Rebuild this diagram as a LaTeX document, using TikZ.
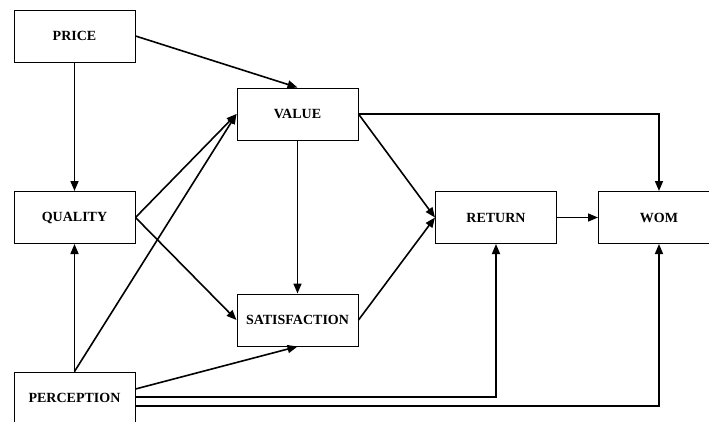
\documentclass[tikz,border=0pt]{standalone}
\usepackage{fontspec}
\setmainfont{Liberation Serif}
\usetikzlibrary{arrows.meta,calc}
\begin{document}
\begin{tikzpicture}[x=1pt,y=-1pt,
  box/.style={draw=black, line width=1pt, rectangle, minimum width=121pt, minimum height=52pt, inner sep=0pt,
    font=\fontsize{14}{16}\selectfont\bfseries},
  link/.style={line width=1.6pt, -{Triangle[length=10pt,width=8pt]}}]
\clip (0,0) rectangle (709,421);
\fill[white] (0,0) rectangle (709,421);
\node[box] (price) at (74.5,36) {PRICE};
\node[box] (quality) at (74.5,217.5) {QUALITY};
\node[box] (perc) at (74.5,398) {PERCEPTION};
\node[box] (value) at (297.5,114) {VALUE};
\node[box] (sat) at (297.5,320) {SATISFACTION};
\node[box] (ret) at (496,217.5) {RETURN};
\node[box] (wom) at (659,217.5) {WOM};
% connectors
\draw[link] (price.east) -- (value.north);
\draw[link] (price.south) -- (quality.north);
\draw[link] (quality.east) -- (value.west);
\draw[link] (quality.east) -- (sat.west);
\draw[link] (perc.north) -- (quality.south);
\draw[link] (perc.north) -- (value.west);
\draw[link] ($(perc.east)+(0,-9)$) -- (sat.south);
\draw[link] ($(perc.east)+(0,-1)$) -| (ret.south);
\draw[link] ($(perc.east)+(0,8)$) -| (wom.south);
\draw[link] (value.south) -- (sat.north);
\draw[link] (value.east) -- (ret.west);
\draw[link] (value.east) -| (wom.north);
\draw[link] (sat.east) -- (ret.west);
\draw[link] (ret.east) -- (wom.west);
\end{tikzpicture}
\end{document}
